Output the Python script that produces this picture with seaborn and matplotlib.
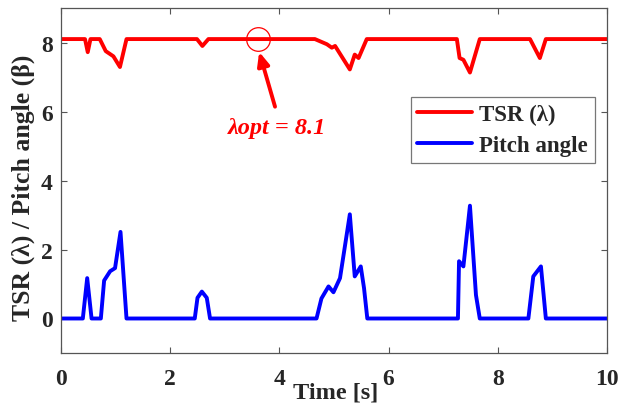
import numpy as np
import pandas as pd
import matplotlib
matplotlib.use("Agg")
import matplotlib.pyplot as plt
import seaborn as sns

# Tip-speed ratio trace
time_tsr = [0, 0.44, 0.49, 0.54, 0.71, 0.82, 0.96, 1.08, 1.20, 2.49, 2.59, 2.70,
            4.65, 4.87, 4.96, 5.02, 5.29, 5.38, 5.45, 5.60, 7.25, 7.30, 7.37, 7.49,
            7.67, 8.59, 8.77, 8.88, 10]
tsr = [8.1, 8.1, 7.72, 8.1, 8.1, 7.75, 7.6, 7.29, 8.1, 8.1, 7.9, 8.1,
       8.1, 7.95, 7.85, 7.9, 7.22, 7.65, 7.55, 8.1, 8.1, 7.55, 7.5, 7.13,
       8.1, 8.1, 7.55, 8.1, 8.1]

# Pitch angle trace
time_pitch = [0, 0.40, 0.48, 0.56, 0.73, 0.79, 0.90, 0.99, 1.09, 1.20, 2.45, 2.50,
              2.58, 2.67, 2.73, 4.68, 4.77, 4.90, 4.99, 5.11, 5.29, 5.38, 5.49, 5.55,
              5.61, 7.27, 7.29, 7.37, 7.49, 7.60, 7.67, 8.56, 8.65, 8.79, 8.88, 10]
pitch = [0, 0, 1.17, 0, 0, 1.1, 1.37, 1.46, 2.51, 0, 0, 0.6,
         0.78, 0.6, 0, 0, 0.58, 0.93, 0.76, 1.17, 3.02, 1.22, 1.51, 0.88,
         0, 0, 1.66, 1.51, 3.27, 0.68, 0, 0, 1.22, 1.51, 0, 0]

lambda_opt = 8.1
x_ticks = [0, 2, 4, 6, 8, 10]
y_ticks = [0, 2, 4, 6, 8]

sns.set_style("ticks")
plt.rcParams["font.family"] = ["Liberation Serif", "DejaVu Serif"]
plt.rcParams["font.weight"] = "bold"

df_tsr = pd.DataFrame({"Time": time_tsr, "Value": tsr})
df_pitch = pd.DataFrame({"Time": time_pitch, "Value": pitch})

fig = plt.figure(figsize=(6.3, 4.1), dpi=100)
ax = fig.add_axes([0.0968, 0.1366, 0.8667, 0.8414])

sns.lineplot(data=df_tsr, x="Time", y="Value", ax=ax, color="#ff0000",
             linewidth=2.8, label="TSR (λ)", estimator=None)
sns.lineplot(data=df_pitch, x="Time", y="Value", ax=ax, color="#0000ff",
             linewidth=2.8, label="Pitch angle", estimator=None)

ax.set_xlim(0, 10)
ax.set_ylim(-1, 9)
ax.set_xticks(x_ticks)
ax.set_yticks(y_ticks)
ax.tick_params(direction="in", top=True, right=True, length=4, width=0.8,
               color="#555555", labelsize=17)
ax.tick_params(axis="x", pad=11)
ax.tick_params(axis="y", pad=6)
for lab in ax.get_xticklabels() + ax.get_yticklabels():
    lab.set_fontweight("bold")
for sp in ax.spines.values():
    sp.set_visible(True)
    sp.set_color("#555555")
    sp.set_linewidth(0.9)

ax.set_xlabel("Time [s]", fontsize=17.5, fontweight="bold")
ax.xaxis.set_label_coords(0.503, -0.082)
ax.set_ylabel("TSR (λ) / Pitch angle (β)", fontsize=18.5, fontweight="bold")
ax.yaxis.set_label_coords(-0.047, 0.483)

# Optimal TSR marker and callout
ax.plot([3.6], [lambda_opt], marker="o", markersize=17, markerfacecolor="none",
        markeredgecolor="#ff0000", markeredgewidth=0.9, linestyle="none")
ax.annotate("", xy=(3.63, 7.73), xytext=(3.92, 6.14),
            arrowprops=dict(arrowstyle="-|>,head_length=0.8,head_width=0.35",
                            color="#ff0000", lw=2.8, shrinkA=0, shrinkB=0))
ax.text(3.96, 5.55, f"λopt = {lambda_opt}", color="#ff0000", fontsize=17.5,
        fontweight="bold", fontstyle="italic", ha="center", va="center")

leg = ax.legend(loc="upper right", bbox_to_anchor=(0.978, 0.742), fontsize=16.5,
                handlelength=2.4, frameon=True, fancybox=False,
                borderpad=0.3, labelspacing=0.45, handletextpad=0.3,
                borderaxespad=0)
leg.get_frame().set_edgecolor("#555555")
leg.get_frame().set_linewidth(0.9)
for t in leg.get_texts():
    t.set_fontweight("bold")

fig.savefig("out.png", dpi=100, facecolor="white")
